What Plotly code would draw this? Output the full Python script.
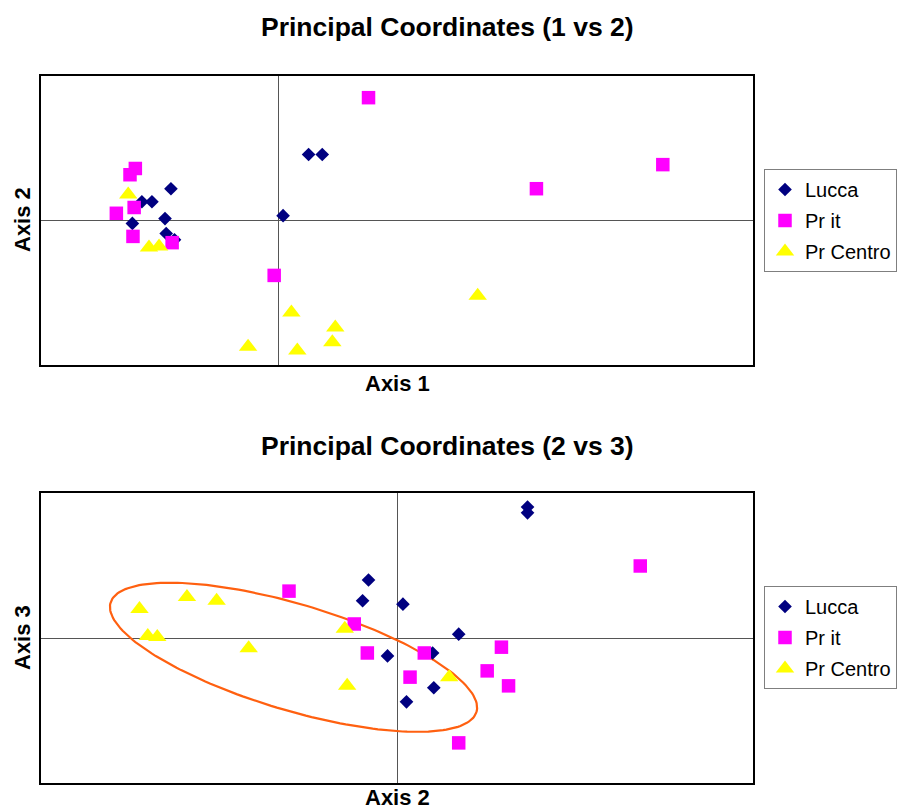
import numpy as np
import plotly.graph_objects as go

# ---- Principal coordinates, plot 1 (Axis 1 vs Axis 2) ----
lucca_ax1 = [-0.181, -0.213, -0.230, -0.191, -0.246, -0.189, -0.175, 0.008, 0.051, 0.074]
lucca_ax2 = [0.066, 0.039, 0.039, 0.004, -0.006, -0.027, -0.040, 0.010, 0.137, 0.137]

prit_ax1 = [-0.241, -0.250, -0.243, -0.273, -0.245, -0.179, -0.007, 0.152, 0.435, 0.648]
prit_ax2 = [0.108, 0.095, 0.027, 0.015, -0.033, -0.046, -0.114, 0.255, 0.066, 0.116]

prc_ax1 = [-0.253, -0.218, -0.201, 0.022, -0.051, 0.032, 0.336, 0.096, 0.091]
prc_ax2 = [0.054, -0.056, -0.054, -0.191, -0.262, -0.270, -0.156, -0.222, -0.253]

# ---- Principal coordinates, plot 2 (Axis 2 vs Axis 3) ----
lucca_b2 = [-0.024, -0.029, 0.005, 0.052, -0.008, 0.030, 0.031, 0.008, 0.110, 0.110]
lucca_b3 = [0.120, 0.077, 0.070, 0.008, -0.037, -0.031, -0.103, -0.132, 0.271, 0.259]

prit_b2 = [-0.091, -0.036, -0.025, 0.023, 0.011, 0.205, 0.088, 0.076, 0.094, 0.052]
prit_b3 = [0.097, 0.029, -0.031, -0.031, -0.081, 0.149, -0.019, -0.068, -0.099, -0.217]

prc_b2 = [-0.217, -0.177, -0.152, -0.210, -0.202, -0.125, -0.044, -0.042, 0.044]
prc_b3 = [0.060, 0.085, 0.077, 0.004, 0.002, -0.021, 0.019, -0.099, -0.081]

groups = ["Lucca", "Pr it", "Pr Centro"]

# Ellipse enclosing the Pr Centro group (centre + two conjugate half-axes)
ell_center = (-0.0872, -0.0399)
ell_u = (0.1542, -0.1130)
ell_v = (-0.0128, -0.1051)

FONT = "Liberation Sans, Arial, sans-serif"
W, H = 899, 809

styles = {
    "Lucca": dict(symbol="diamond", color="#000080", size=10.5),
    "Pr it": dict(symbol="square", color="#FF00FF", size=13.5),
    "Pr Centro": dict(symbol="triangle-up", color="#FFFF00", size=16),
}

fig = go.Figure()

top_data = {"Lucca": (lucca_ax1, lucca_ax2), "Pr it": (prit_ax1, prit_ax2),
            "Pr Centro": (prc_ax1, prc_ax2)}
bot_data = {"Lucca": (lucca_b2, lucca_b3), "Pr it": (prit_b2, prit_b3),
            "Pr Centro": (prc_b2, prc_b3)}

for name in groups:
    st = styles[name]
    x, y = top_data[name]
    fig.add_trace(go.Scatter(
        x=x, y=y, mode="markers", name=name, xaxis="x", yaxis="y",
        legend="legend", legendgroup="t" + name,
        marker=dict(symbol=st["symbol"], color=st["color"], size=st["size"],
                    line=dict(width=0)),
    ))

t = np.linspace(0, 2 * np.pi, 200)
ex = ell_center[0] + ell_u[0] * np.cos(t) + ell_v[0] * np.sin(t)
ey = ell_center[1] + ell_u[1] * np.cos(t) + ell_v[1] * np.sin(t)
fig.add_trace(go.Scatter(x=ex, y=ey, mode="lines", xaxis="x2", yaxis="y2",
                         line=dict(color="#FF6010", width=2.2),
                         showlegend=False, hoverinfo="skip"))

for name in groups:
    st = styles[name]
    x, y = bot_data[name]
    fig.add_trace(go.Scatter(
        x=x, y=y, mode="markers", name=name, xaxis="x2", yaxis="y2",
        legend="legend2", legendgroup="b" + name,
        marker=dict(symbol=st["symbol"], color=st["color"], size=st["size"],
                    line=dict(width=0)),
    ))


def px_x(p):
    return p / W


def px_y(p):
    return 1 - p / H


axis_common = dict(showgrid=False, showticklabels=False, ticks="",
                   showline=True, linecolor="black", linewidth=2, mirror=True,
                   zeroline=True, zerolinecolor="#555555", zerolinewidth=1.2)

legend_common = dict(xanchor="left", yanchor="top",
                     bordercolor="#7f7f7f", borderwidth=1, bgcolor="white",
                     font=dict(family=FONT, size=20, color="black"),
                     tracegroupgap=2, itemwidth=30)

fig.update_layout(
    width=W, height=H,
    margin=dict(l=0, r=0, t=0, b=0),
    paper_bgcolor="white", plot_bgcolor="white",
    font=dict(family=FONT, color="black"),
    xaxis=dict(domain=[px_x(41), px_x(753)], range=[-0.4, 0.8], anchor="y", **axis_common),
    yaxis=dict(domain=[px_y(365), px_y(76)], range=[-0.3, 0.3], anchor="x", **axis_common),
    xaxis2=dict(domain=[px_x(41), px_x(753)], range=[-0.3, 0.3], anchor="y2", **axis_common),
    yaxis2=dict(domain=[px_y(783), px_y(493)], range=[-0.3, 0.3], anchor="x2", **axis_common),
    legend=dict(x=px_x(764), y=px_y(169), **legend_common),
    legend2=dict(x=px_x(764), y=px_y(586), **legend_common),
)

annots = [
    ("Principal Coordinates (1 vs 2)", 447, 27, 26.5, 0),
    ("Principal Coordinates (2 vs 3)", 447, 446, 26.5, 0),
    ("Axis 1", 397, 383, 22, 0),
    ("Axis 2", 397, 797, 22, 0),
    ("Axis 2", 22, 220, 22, -90),
    ("Axis 3", 22, 638, 22, -90),
]
for text, ax_, ay_, size, rot in annots:
    fig.add_annotation(text="<b>%s</b>" % text, x=px_x(ax_), y=px_y(ay_),
                       xref="paper", yref="paper", showarrow=False,
                       xanchor="center", yanchor="middle", textangle=rot,
                       font=dict(family=FONT, size=size, color="black"))

fig.write_html("out.html")
